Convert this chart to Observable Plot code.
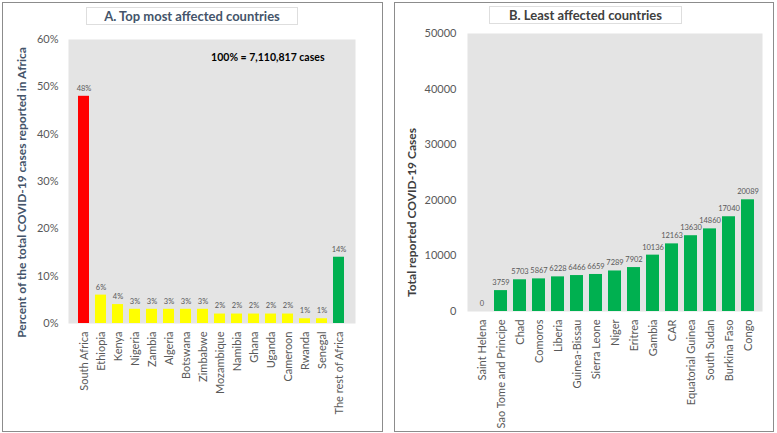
<!DOCTYPE html>
<html><head><meta charset="utf-8">
<script src="https://cdn.jsdelivr.net/npm/d3@7"></script>
<script src="https://cdn.jsdelivr.net/npm/@observablehq/plot@0.6"></script>
<style>
body{margin:0;width:777px;height:433px;background:#fff;font-family:Lato,"Open Sans",sans-serif;position:relative;overflow:hidden}
.panel{position:absolute;border:1px solid #8c8c8c;box-sizing:border-box;background:#fff}
.panel svg{position:absolute;left:0;top:0}
.title{position:absolute;background:#fff;border:1px solid #dedede;box-sizing:border-box;text-align:center;font-weight:bold;font-size:13px;color:#44546a;z-index:2}
</style></head><body>
<div id="a" class="panel" style="left:2px;top:2px;width:381px;height:430px">
  <div class="title" style="left:83px;top:4px;width:212px;height:18px;line-height:16px">A. Top most affected countries</div>
</div>
<div id="b" class="panel" style="left:394px;top:2px;width:380px;height:430px">
  <div class="title" style="left:94px;top:3px;width:193px;height:18px;line-height:16px;color:#404040">B. Least affected countries</div>
</div>
<script>
// Panel A data
const topCountries = ["South Africa","Ethiopia","Kenya","Nigeria","Zambia","Algeria","Botswana","Zimbabwe","Mozambique","Namibia","Ghana","Uganda","Cameroon","Rwanda","Senegal","The rest of Africa"];
const topPercent = [48,6,4,3,3,3,3,3,2,2,2,2,2,1,1,14];
const yTicksA = [0,10,20,30,40,50,60];
const totalNote = "100% = 7,110,817 cases";
const yLabelA = "Percent of the total COVID-19 cases reported in Africa";

// Panel B data
const leastCountries = ["Saint Helena","Sao Tome and Principe","Chad","Comoros","Liberia","Guinea-Bissau","Sierra Leone","Niger","Eritrea","Gambia","CAR","Equatorial Guinea","South Sudan","Burkina Faso","Congo"];
const leastCases = [0,3759,5703,5867,6228,6466,6659,7289,7902,10136,12163,13630,14860,17040,20089];
const yTicksB = [0,10000,20000,30000,40000,50000];
const yLabelB = "Total reported COVID-19 Cases";

const dataA = topCountries.map((c,i)=>({country:c, value:topPercent[i]}));
const dataB = leastCountries.map((c,i)=>({country:c, value:leastCases[i]}));

const font = "Lato, 'Open Sans', sans-serif";
const tickColor = "#595959";

const colorA = c => c === "South Africa" ? "#ff0000" : c === "The rest of Africa" ? "#00b050" : "#ffff00";

const plotA = Plot.plot({
  width: 379, height: 428,
  marginLeft: 65, marginRight: 27, marginTop: 36, marginBottom: 108,
  style: {fontFamily: font, fontSize: "11px", color: tickColor, background: "transparent"},
  x: {domain: topCountries, padding: 0.33},
  y: {domain: [0,60]},
  marks: [
    Plot.frame({fill: "#e4e4e4", stroke: null}),
    Plot.barY(dataA, {x: "country", y: "value", fill: d => colorA(d.country)}),
    Plot.text(dataA, {x: "country", y: "value", text: d => Math.round(d.value) + "%", dy: -8, fontSize: 7.5, fill: tickColor}),
    Plot.axisY({ticks: yTicksA, tickFormat: d => d + "%", tickSize: 0, tickPadding: 10, label: null, fontSize: 11, color: tickColor}),
    Plot.axisX({tickRotate: -90, tickSize: 0, tickPadding: 8, label: null, fontSize: 11, color: tickColor}),
    Plot.text([totalNote], {frameAnchor: "top-right", dx: -31, dy: 14, fontWeight: "bold", fontSize: 10.5, fill: "#000"}),
    Plot.text([yLabelA], {frameAnchor: "left", textAnchor: "middle", rotate: -90, dx: -46, dy: 11, fontWeight: "bold", fontSize: 12, fill: "#44546a"})
  ]
});
document.getElementById("a").appendChild(plotA);

const plotB = Plot.plot({
  width: 378, height: 428,
  marginLeft: 72, marginRight: 11, marginTop: 30, marginBottom: 120,
  style: {fontFamily: font, fontSize: "11px", color: tickColor, background: "transparent"},
  x: {domain: leastCountries, padding: 0.33},
  y: {domain: [0,50000]},
  marks: [
    Plot.frame({fill: "#e4e4e4", stroke: null}),
    Plot.barY(dataB, {x: "country", y: "value", fill: "#00b050"}),
    Plot.text(dataB, {x: "country", y: "value", text: d => String(d.value), dy: -8, fontSize: 7.5, fill: tickColor}),
    Plot.axisY({ticks: yTicksB, tickFormat: d => String(d), tickSize: 0, tickPadding: 11, label: null, fontSize: 11, color: tickColor}),
    Plot.axisX({tickRotate: -90, tickSize: 0, tickPadding: 8, label: null, fontSize: 11, color: tickColor}),
    Plot.text([yLabelB], {frameAnchor: "left", textAnchor: "middle", rotate: -90, dx: -55, dy: 40, fontWeight: "bold", fontSize: 12, fill: "#404040"})
  ]
});
document.getElementById("b").appendChild(plotB);
</script>
</body></html>
